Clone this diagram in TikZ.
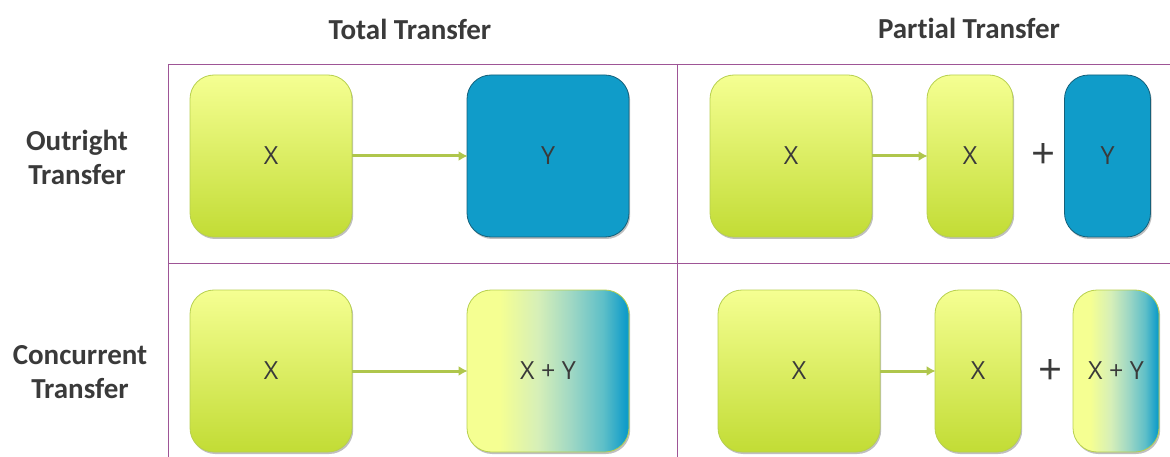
\documentclass[tikz,border=0pt]{standalone}
\usepackage{fontspec}
\setmainfont[Ligatures=NoCommon]{Carlito}
\newfontfamily\boxfont{Open Sans}
\usetikzlibrary{shadows,arrows.meta}
\definecolor{gtop}{HTML}{F5FF92}
\definecolor{gbot}{HTML}{C2DC35}
\definecolor{gedge}{HTML}{B7D04E}
\definecolor{bfill}{HTML}{109CC9}
\definecolor{bedge}{HTML}{14607A}
\definecolor{grid}{HTML}{9E5596}
\definecolor{arr}{HTML}{AFC64C}
\definecolor{txt}{HTML}{3A3A3A}
\definecolor{mixa}{HTML}{D6EFB8}
\definecolor{mixb}{HTML}{A0D8C4}
\definecolor{mixc}{HTML}{5EBFC8}
\pgfdeclarehorizontalshading{mix}{100bp}{color(0bp)=(gtop); color(35bp)=(gtop); color(47bp)=(mixa); color(57bp)=(mixb); color(67bp)=(mixc); color(74bp)=(bfill); color(100bp)=(bfill)}
\tikzset{
  cell/.style={draw=grid, line width=0.9pt},
  base/.style={rounded corners=24pt, line width=0.8pt, font=\boxfont\fontsize{25}{28}\selectfont, text=txt,
    drop shadow={shadow xshift=1.2pt, shadow yshift=-2pt, opacity=0.25, fill=black}},
  gbox/.style={base, draw=gedge, top color=gtop, bottom color=gbot},
  bbox/.style={base, draw=bedge, fill=bfill},
  mbox/.style={base, draw=gedge, shading=mix},
  conn/.style={draw=arr, line width=3pt, -{Latex[length=9pt,width=10pt]}, shorten >=-1pt},
  hdr/.style={font=\bfseries\fontsize{29}{34}\selectfont, text=txt},
  rowlab/.style={font=\bfseries\fontsize{29}{34}\selectfont, text=txt, align=center},
  plus/.style={font=\boxfont\fontsize{42}{44}\selectfont, text=txt}
}
\begin{document}
\begin{tikzpicture}[x=1pt,y=-1pt]
\useasboundingbox (0,0) rectangle (1170,457);
% grid
\draw[cell] (168,64) -- (1170,64);
\draw[cell] (168,263) -- (1170,263);
\draw[cell] (168,64) -- (168,457);
\draw[cell] (677,64) -- (677,457);
% headers
\node[hdr] (h1) at (410,29) {Total Transfer};
\node[hdr] (h2) at (969,28) {Partial Transfer};
\node[rowlab] (r1) at (77,157) {Outright\\Transfer};
\node[rowlab] (r2) at (80,372) {Concurrent\\Transfer};
% row 1 left
\node[gbox, minimum width=162pt, minimum height=162pt] (a1) at (271,156) {X};
\node[bbox, minimum width=162pt, minimum height=162pt] (a2) at (548,156) {Y};
\draw[conn] (a1.east) -- (a2.west);
% row 1 right
\node[gbox, minimum width=162pt, minimum height=162pt] (b1) at (791,156) {X};
\node[gbox, minimum width=86pt, minimum height=162pt] (b2) at (970,156) {X};
\node[plus] (bp) at (1043,156) {+};
\node[bbox, minimum width=86pt, minimum height=162pt] (b3) at (1107.5,156) {Y};
\draw[conn] (b1.east) -- (b2.west);
% row 2 left
\node[gbox, minimum width=162pt, minimum height=162pt] (c1) at (271,371) {X};
\node[mbox, minimum width=162pt, minimum height=162pt] (c2) at (548,371) {X + Y};
\draw[conn] (c1.east) -- (c2.west);
% row 2 right
\node[gbox, minimum width=162pt, minimum height=162pt] (d1) at (799,371) {X};
\node[gbox, minimum width=86pt, minimum height=162pt] (d2) at (978,371) {X};
\node[plus] (dp) at (1050,372) {+};
\node[mbox, minimum width=86pt, minimum height=162pt, inner sep=1pt] (d3) at (1116,371) {X + Y};
\draw[conn] (d1.east) -- (d2.west);
\end{tikzpicture}
\end{document}
